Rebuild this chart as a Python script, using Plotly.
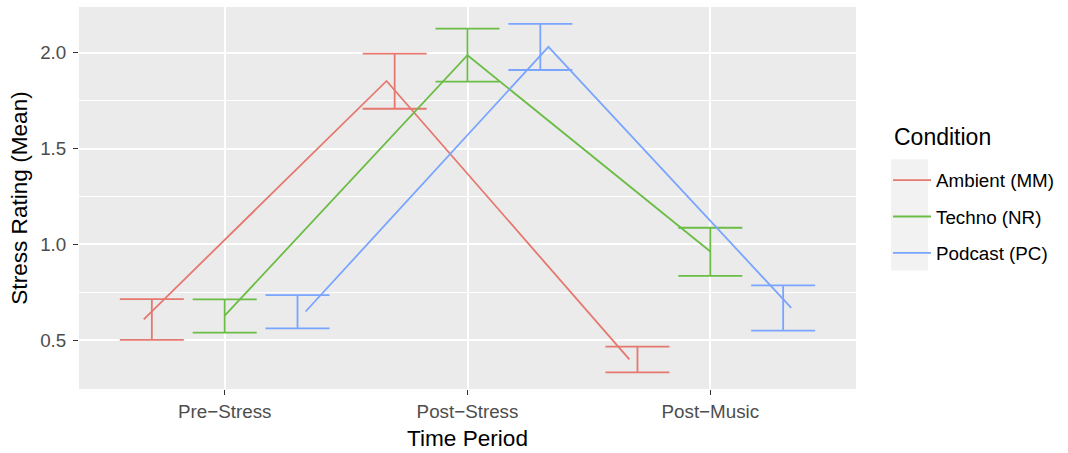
import plotly.graph_objects as go

periods = ["Pre\u2212Stress", "Post\u2212Stress", "Post\u2212Music"]
conditions = ["Ambient (MM)", "Techno (NR)", "Podcast (PC)"]
colors = ["#E5786F", "#6BBD45", "#7AA5FF"]

mean_ambient = [0.609, 1.853, 0.400]
low_ambient = [0.502, 1.708, 0.332]
high_ambient = [0.715, 1.996, 0.467]

mean_techno = [0.628, 1.987, 0.963]
low_techno = [0.540, 1.849, 0.836]
high_techno = [0.713, 2.126, 1.087]

mean_podcast = [0.650, 2.031, 0.669]
low_podcast = [0.562, 1.910, 0.550]
high_podcast = [0.735, 2.151, 0.786]

means = [mean_ambient, mean_techno, mean_podcast]
lows = [low_ambient, low_techno, low_podcast]
highs = [high_ambient, high_techno, high_podcast]

line_dodge = [-1 / 3, 0, 1 / 3]
err_dodge = [-0.3, 0, 0.3]

FONT = "Liberation Sans, Arial, Helvetica, sans-serif"

fig = go.Figure()
for k, cond in enumerate(conditions):
    xs_line = [i + 1 + line_dodge[k] for i in range(len(periods))]
    xs_err = [i + 1 + err_dodge[k] for i in range(len(periods))]
    mid = [(lo + hi) / 2 for lo, hi in zip(lows[k], highs[k])]
    fig.add_trace(go.Scatter(
        x=xs_err, y=mid, mode="markers",
        marker=dict(size=1, color="rgba(0,0,0,0)"),
        error_y=dict(type="data", symmetric=False,
                     array=[hi - m for hi, m in zip(highs[k], mid)],
                     arrayminus=[m - lo for m, lo in zip(mid, lows[k])],
                     color=colors[k], thickness=1.8, width=32),
        showlegend=False, hoverinfo="skip"))
    fig.add_trace(go.Scatter(
        x=xs_line, y=means[k], mode="lines",
        line=dict(color=colors[k], width=1.8),
        name=cond, legendgroup=cond))

fig.add_shape(type="rect", xref="paper", yref="paper",
              x0=1.0451, x1=1.0927, y0=0.3099, y1=0.6016,
              fillcolor="#F2F2F2", line=dict(width=0), layer="below")

fig.add_annotation(text="Condition", xref="paper", yref="paper",
                   x=1.0463, y=0.659, xanchor="left", yanchor="middle",
                   showarrow=False, font=dict(size=23, color="#000000"))

fig.update_layout(
    width=1068, height=453,
    margin=dict(l=79, r=212, t=7, b=62),
    paper_bgcolor="white", plot_bgcolor="#EBEBEB",
    font=dict(family=FONT, color="#000000"),
    showlegend=True,
    legend=dict(
        font=dict(size=18.8, color="#000000"),
        x=1.0412, xanchor="left", xref="paper",
        y=0.596, yanchor="top",
        bgcolor="rgba(0,0,0,0)", tracegroupgap=9,
        itemwidth=38,
    ),
    xaxis=dict(
        range=[0.4, 3.6], tickmode="array", tickvals=[1, 2, 3], ticktext=periods,
        showgrid=True, gridcolor="white", gridwidth=2, zeroline=False,
        ticks="outside", ticklen=5, tickcolor="#333333", tickwidth=1.2,
        tickfont=dict(size=18.8, color="#4D4D4D"), ticklabelstandoff=0,
        title=dict(text="Time Period", font=dict(size=22.6, color="#000000"), standoff=9),
    ),
    yaxis=dict(
        range=[0.2456, 2.2388], tickmode="linear", tick0=0, dtick=0.5,
        tickformat=".1f",
        showgrid=True, gridcolor="white", gridwidth=2, zeroline=False,
        ticks="outside", ticklen=5, tickcolor="#333333", tickwidth=1.2,
        tickfont=dict(size=18.8, color="#4D4D4D"), ticklabelstandoff=3,
        minor=dict(tick0=0, dtick=0.25, showgrid=True, gridcolor="white", gridwidth=1, ticks=""),
        title=dict(text="Stress Rating (Mean)", font=dict(size=22.6, color="#000000"), standoff=6),
    ),
)

fig.write_html("out.html")
